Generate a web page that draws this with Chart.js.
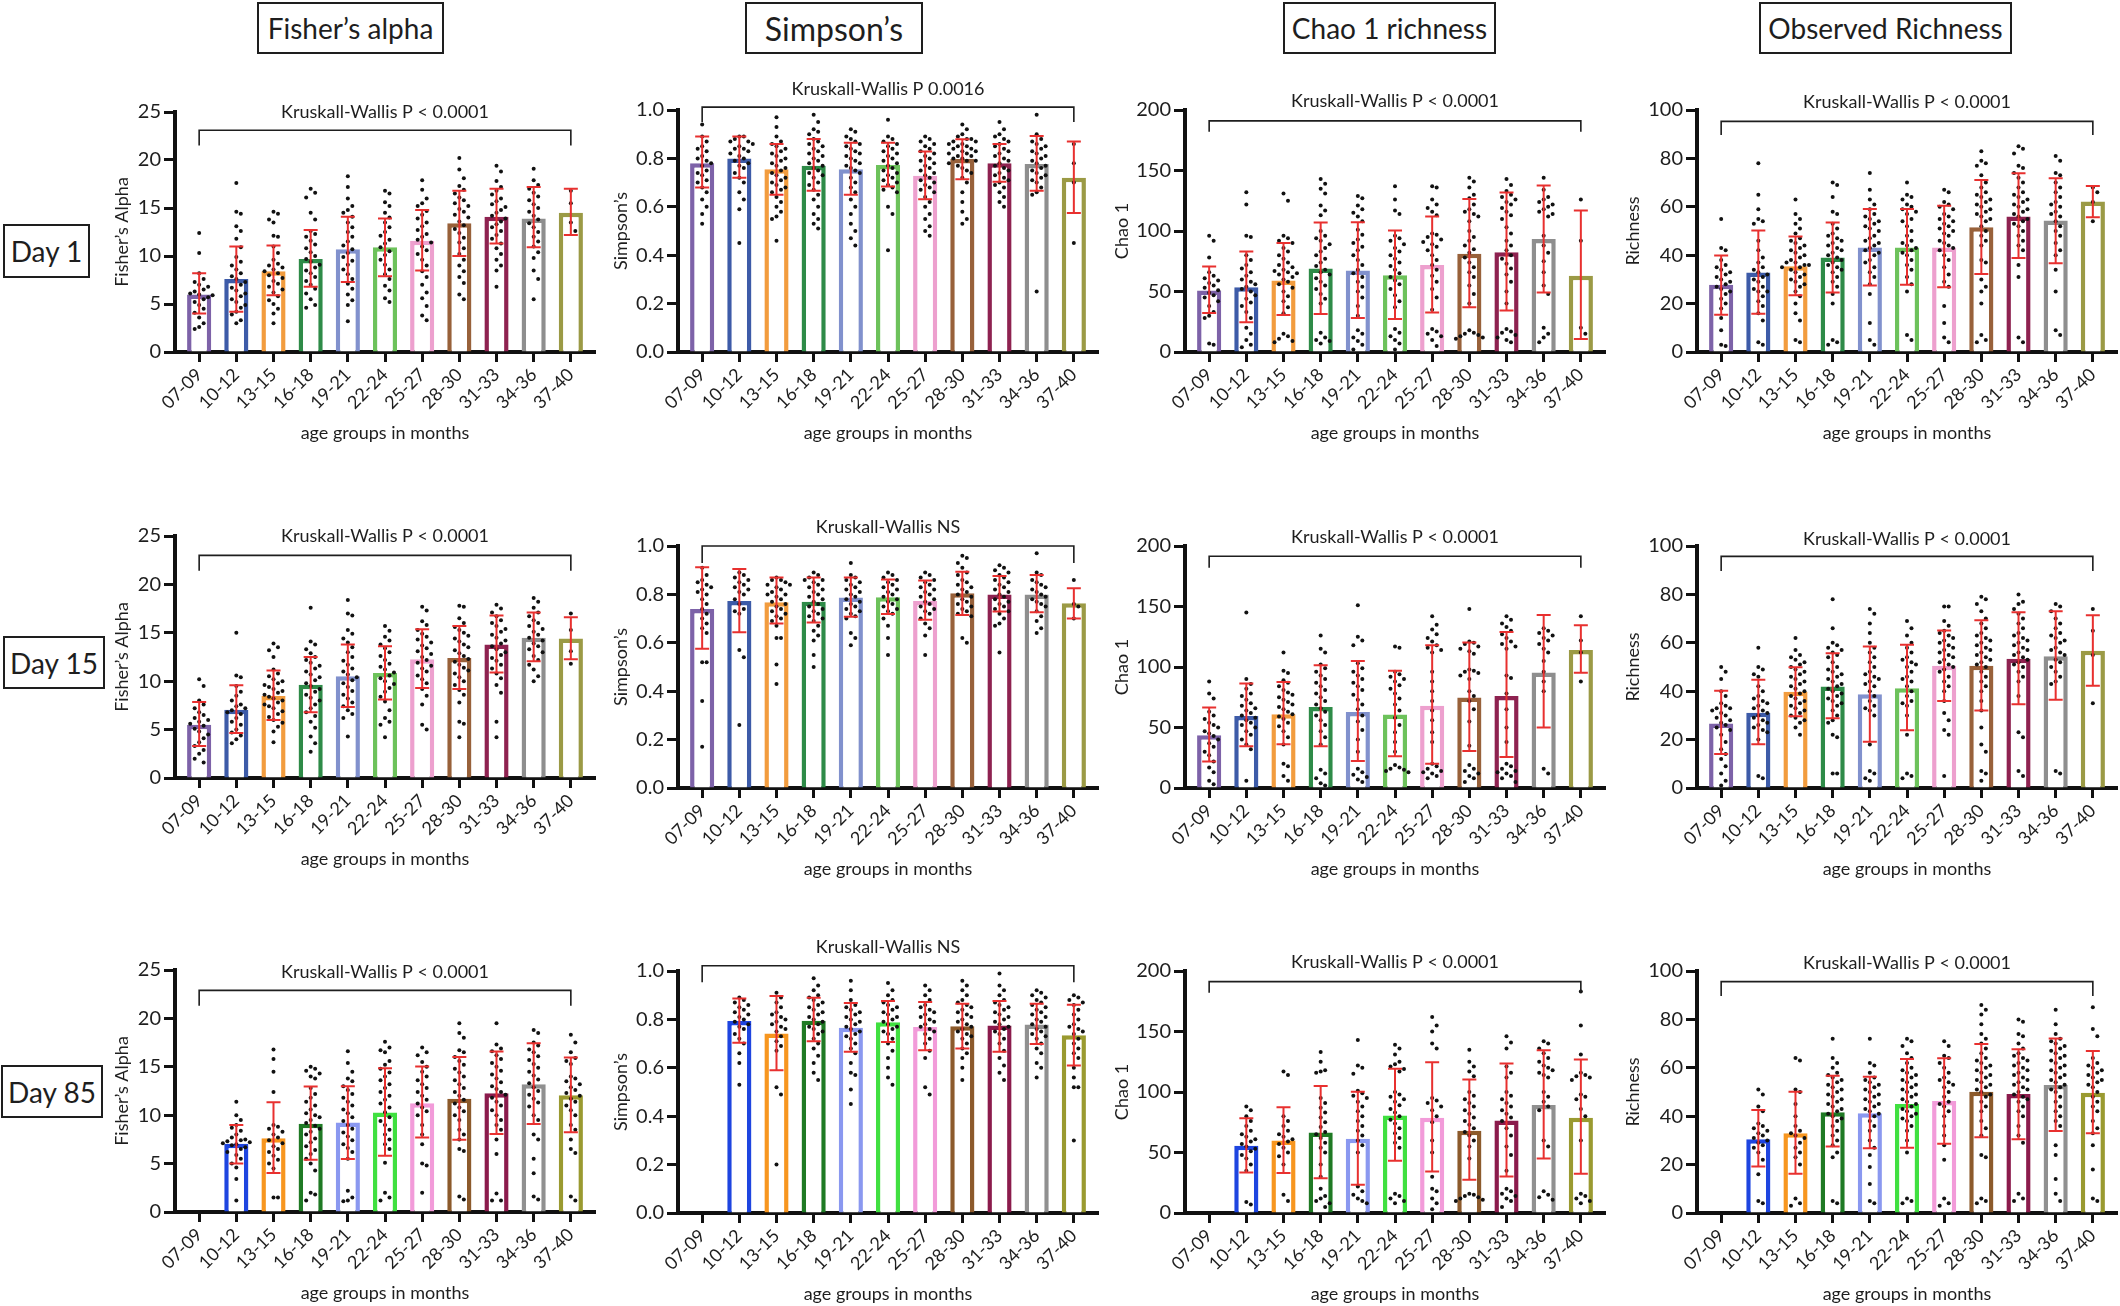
<!DOCTYPE html>
<html><head><meta charset="utf-8">
<script src="https://cdn.jsdelivr.net/npm/chart.js@4.4.1/dist/chart.umd.min.js"></script>
<style>
html,body{margin:0;padding:0;background:#fff;}
#wrap{position:relative;width:2120px;height:1306px;overflow:hidden;font-family:Lato,sans-serif;color:#1e1e1e;}
.box{position:absolute;box-sizing:border-box;border:2.5px solid #1e1e1e;display:flex;align-items:center;justify-content:center;font-size:28px;white-space:nowrap;}
canvas{position:absolute;}
</style></head><body><div id="wrap">
<div class="box" style="left:257px;top:2px;width:187px;height:52px">Fisher’s alpha</div>
<div class="box" style="left:745px;top:2px;width:178px;height:52px;font-size:32px">Simpson’s</div>
<div class="box" style="left:1283px;top:2px;width:213px;height:52px">Chao 1 richness</div>
<div class="box" style="left:1759px;top:2px;width:253px;height:52px">Observed Richness</div>
<div class="box" style="left:3px;top:224px;width:87px;height:54px">Day 1</div>
<div class="box" style="left:3px;top:636px;width:102px;height:53px">Day 15</div>
<div class="box" style="left:1px;top:1065px;width:102px;height:53px">Day 85</div>
</div>
<script>
// ---------------- DATA ----------------
const categories = ['07-09','10-12','13-15','16-18','19-21','22-24','25-27','28-30','31-33','34-36','37-40'];
const colorsEarly = ['#7d62a8','#3d5ba8','#f29c3e','#2e8b48','#8191cd','#6dc25b','#eda0ce','#98613a','#8e2250','#8e8e8e','#9b9a45'];
const colorsLate  = ['#7d62a8','#1e45e0','#f7961f','#1f7a24','#8a98f0','#40e040','#f29bd9','#8c5a2b','#8b1b4c','#909090','#9a9a30'];

// Fisher's alpha, Day 1
const fisherD1Mean = [6.0,7.6,8.4,9.7,10.7,10.9,11.6,13.4,14.1,13.9,14.5];
const fisherD1Hi   = [8.2,11.0,11.1,12.7,14.1,13.9,14.8,16.8,17.0,17.2,17.0];
const fisherD1Lo   = [4.0,4.2,5.9,6.8,7.3,7.9,8.5,10.0,11.3,10.9,12.2];
const fisherD1Dots = [
[12.4,10.3,8.2,7.6,7.3,7.0,6.8,6.5,6.3,6.1,6.0,5.9,5.7,5.5,5.2,4.9,4.5,4.1,3.6,3.0,2.6,2.4],
[17.6,14.6,14.4,13.1,12.6,11.8,10.9,9.9,9.4,9.0,8.6,8.2,7.9,7.6,7.3,7.0,6.7,6.4,6.1,5.8,5.5,5.2,4.9,4.6,4.2,3.9,3.3,3.0],
[14.6,14.4,13.8,13.5,12.1,12.0,11.0,10.3,9.6,9.2,9.0,8.8,8.6,8.4,8.2,8.0,7.7,7.4,7.1,6.8,6.5,6.2,5.8,5.4,5.0,4.5,4.0,3.0],
[17.0,16.6,16.1,14.5,13.8,12.6,12.3,12.0,11.6,11.2,10.8,10.4,10.0,9.7,9.4,9.1,8.8,8.5,8.2,7.8,7.4,7.0,6.6,6.1,5.5,4.9,4.6],
[18.3,17.2,16.0,15.2,14.8,14.5,14.1,13.5,13.0,12.5,12.0,11.5,11.1,10.7,10.3,9.9,9.5,9.1,8.6,8.1,7.6,7.1,6.6,6.0,5.4,4.9,3.2],
[16.8,16.5,15.6,15.2,14.5,14.0,13.5,13.0,12.5,12.1,11.7,11.3,10.9,10.5,10.1,9.6,9.1,8.6,8.1,7.6,6.9,6.4,5.6,5.2],
[17.9,16.9,16.0,15.5,15.2,14.7,14.3,13.9,13.5,13.1,12.7,12.3,12.0,11.7,11.4,11.0,10.6,10.2,9.6,9.0,8.4,7.8,7.0,6.2,5.6,4.8,3.8,3.3],
[20.2,19.0,18.1,17.3,16.9,16.5,16.1,15.8,15.5,15.2,14.9,14.6,14.3,14.0,13.6,13.2,12.8,12.4,11.9,11.4,10.8,10.2,9.6,9.0,8.4,7.8,7.2,6.0,5.5],
[19.4,18.8,17.8,17.2,16.8,16.4,16.0,15.7,15.4,15.1,14.8,14.5,14.2,13.9,13.6,13.3,13.0,12.6,12.2,11.8,11.3,10.8,10.2,9.6,9.0,8.5,6.8],
[19.1,17.9,17.4,17.0,16.6,16.2,15.8,15.4,15.0,14.6,14.2,13.8,13.4,13.0,12.5,12.0,11.5,11.0,10.4,9.8,8.5,7.6,5.5],
[16.8,15.5,13.5,12.6]];

// Simpson's, Day 1
const simpsonD1Mean = [0.78,0.80,0.755,0.77,0.755,0.773,0.728,0.798,0.78,0.777,0.72];
const simpsonD1Hi   = [0.89,0.89,0.86,0.88,0.865,0.865,0.828,0.879,0.86,0.893,0.87];
const simpsonD1Lo   = [0.68,0.72,0.65,0.666,0.65,0.684,0.631,0.714,0.704,0.666,0.574];
const simpsonD1Dots = [
[0.94,0.89,0.87,0.85,0.84,0.83,0.81,0.80,0.79,0.78,0.77,0.75,0.74,0.73,0.71,0.70,0.68,0.66,0.63,0.60,0.57,0.53],
[0.89,0.89,0.88,0.87,0.87,0.86,0.85,0.84,0.84,0.83,0.82,0.81,0.80,0.79,0.78,0.77,0.76,0.74,0.72,0.70,0.66,0.63,0.59,0.45],
[0.97,0.93,0.89,0.87,0.86,0.85,0.84,0.83,0.82,0.81,0.80,0.79,0.78,0.77,0.76,0.75,0.74,0.73,0.72,0.71,0.70,0.69,0.68,0.67,0.66,0.64,0.62,0.60,0.58,0.56,0.55,0.46],
[0.98,0.95,0.92,0.91,0.90,0.88,0.87,0.86,0.85,0.84,0.83,0.82,0.81,0.80,0.79,0.78,0.77,0.76,0.75,0.74,0.73,0.72,0.70,0.69,0.67,0.65,0.63,0.60,0.57,0.55,0.53,0.51],
[0.92,0.91,0.89,0.88,0.87,0.86,0.85,0.84,0.83,0.82,0.81,0.80,0.79,0.78,0.77,0.76,0.75,0.74,0.72,0.70,0.68,0.66,0.63,0.60,0.57,0.53,0.50,0.47,0.44],
[0.96,0.89,0.88,0.87,0.86,0.85,0.84,0.83,0.82,0.81,0.80,0.79,0.78,0.77,0.76,0.75,0.74,0.73,0.72,0.71,0.70,0.69,0.68,0.67,0.66,0.60,0.57,0.42],
[0.89,0.88,0.87,0.86,0.85,0.84,0.83,0.82,0.81,0.80,0.79,0.78,0.77,0.76,0.75,0.74,0.73,0.72,0.71,0.70,0.69,0.68,0.67,0.66,0.64,0.62,0.60,0.57,0.55,0.52,0.50,0.48],
[0.94,0.92,0.90,0.89,0.88,0.88,0.87,0.87,0.86,0.86,0.85,0.85,0.84,0.84,0.83,0.83,0.82,0.82,0.81,0.81,0.80,0.80,0.79,0.79,0.78,0.77,0.76,0.75,0.74,0.72,0.70,0.66,0.62,0.58,0.55,0.53],
[0.95,0.92,0.90,0.89,0.88,0.87,0.86,0.85,0.84,0.83,0.82,0.81,0.80,0.79,0.78,0.77,0.76,0.75,0.74,0.73,0.72,0.71,0.70,0.69,0.68,0.66,0.64,0.62,0.60],
[0.98,0.90,0.88,0.87,0.86,0.85,0.84,0.83,0.82,0.81,0.80,0.79,0.78,0.77,0.76,0.75,0.74,0.73,0.72,0.71,0.70,0.68,0.66,0.65,0.25],
[0.86,0.78,0.70,0.45]];

// Chao 1, Day 1
const chaoD1Mean = [50.9,53.6,59.1,69.0,67.4,63.5,72.0,81.2,82.5,93.3,63.0];
const chaoD1Hi   = [70.7,83.1,90.0,107.0,107.3,100.4,112.0,126.5,131.8,137.6,117.0];
const chaoD1Lo   = [32.2,24.5,30.5,31.4,28.0,27.2,32.7,37.0,34.4,49.2,10.7];
const chaoD1Dots = [
[96,92,78,66,63,61,59,57,55,53,51,49,47,45,42,38,33,30,28,7,6],
[132,122,96,95,80,76,72,69,66,63,60,58,56,54,52,50,47,44,41,38,33,28,20,15,10,6,4],
[131,125,96,94,92,90,86,83,80,77,74,72,70,68,67,66,65,64,62,60,58,56,53,50,46,42,37,32,15,13,11,9,8],
[143,139,135,131,121,117,113,100,96,94,92,89,86,83,80,77,74,71,68,66,64,61,58,55,52,48,44,40,16,12,10,9,7],
[129,127,121,118,115,112,108,101,97,93,90,87,84,80,76,72,68,65,62,58,54,50,45,38,30,18,15,12,9,6,2],
[137,126,117,114,96,94,92,89,86,83,80,77,74,71,68,65,62,59,56,52,47,42,37,19,16,13,10,7,2],
[137,136,126,122,119,116,113,98,97,95,93,91,89,87,84,80,76,72,68,63,58,52,45,35,19,17,15,13,10,5],
[144,141,136,130,127,122,118,116,114,112,108,100,95,92,88,85,82,78,74,70,66,62,55,48,40,18,16,15,14,13,12,11],
[143,138,133,130,128,126,124,122,119,116,113,110,103,98,92,88,84,80,77,73,69,64,58,50,40,19,17,16,14,12,10,8],
[144,134,128,126,124,122,120,118,116,114,112,96,88,82,75,66,55,48,20,15,12,8],
[126,92,20,15]];

// Observed richness, Day 1
const obsD1Mean = [27.8,32.9,35.4,39.0,43.2,43.2,43.2,51.6,56.0,54.3,62.2];
const obsD1Hi   = [39.9,50.2,47.7,53.5,59.1,59.1,60.4,71.1,73.9,71.8,68.6];
const obsD1Lo   = [15.4,15.8,23.5,24.6,27.5,27.8,26.8,32.2,38.8,36.7,55.7];
const obsD1Dots = [
[55,43,42,38,36,35,34,33,32,31,30,29,28,27,26,25,24,22,20,18,14,9,3,2.5],
[78,65,59,55,54,53,46,42,39,37,35,34,33,32,31,30,29,27,26,25,25,23,21,19,16,13,4,3],
[63,57,55,53,51,49,47,46,45,44,43,42,41,40,39,38,37,37,36,36,35,35,34,33,32,31,30,29,28,27,25,23,20,16,13,5,4],
[70,69,64,58,57,53,51,49,48,47,46,45,44,43,42,41,40,39,38,37,36,35,34,33,31,29,27,24,20,5,4,3],
[74,67,63,61,59,57,56,55,54,53,52,51,50,48,47,46,45,44,43,42,41,40,38,37,35,33,31,28,24,12,5,3],
[70,65,64,63,61,60,59,58,57,55,54,52,50,48,46,45,44,43,42,41,40,38,36,34,31,28,25,7,5],
[67,66,62,61,60,59,57,56,55,54,53,52,51,50,49,48,46,45,44,43,42,40,38,35,32,29,27,19,12,6,4],
[83,79,78,77,73,70,68,66,65,64,63,62,61,60,59,58,57,56,55,54,52,50,48,46,44,38,37,30,27,25,20,7,5,4],
[85,84,82,77,76,74,72,70,68,66,65,64,63,62,61,60,59,58,57,56,55,54,53,52,50,48,46,44,42,36,31,6,4],
[81,79,74,73,70,68,66,64,62,61,60,58,57,56,54,52,50,48,45,42,40,34,25,9,7],
[68,66,62,54]];

// Fisher's alpha, Day 15
const fisherD15Mean = [5.5,7.06,8.47,9.64,10.5,10.85,12.26,12.4,13.8,14.5,14.4];
const fisherD15Hi   = [7.85,9.57,11.1,12.5,13.8,13.6,15.36,15.7,16.8,17.1,16.6];
const fisherD15Lo   = [3.3,4.65,6.0,6.8,7.33,8.1,9.3,9.2,10.9,12.05,12.26];
const fisherD15Dots = [
[10.2,9.5,8.0,7.6,7.2,6.8,6.5,6.2,6.0,5.8,5.6,5.4,5.1,4.8,4.5,4.1,3.7,3.3,2.9,2.5,2.0,1.6],
[15.0,10.6,10.4,9.5,8.9,8.5,8.0,7.6,7.4,7.2,7.0,6.8,6.6,6.2,5.8,5.5,5.0,4.7,4.4,4.0,3.6],
[13.9,13.5,13.2,12.5,11.2,10.8,10.5,10.2,10.0,9.8,9.6,9.4,9.2,9.0,8.8,8.6,8.4,8.2,8.0,7.8,7.6,7.4,7.2,6.9,6.6,6.3,6.0,5.7,5.3,4.8,3.7],
[17.6,14.1,13.8,13.3,12.9,12.5,12.2,11.9,11.6,11.3,11.0,10.7,10.4,10.1,9.8,9.5,9.2,8.9,8.6,8.3,8.0,7.6,7.2,6.8,6.4,5.8,5.2,4.3,3.6,2.7],
[18.4,17.0,16.8,15.3,14.9,14.4,14.0,13.5,13.0,12.5,12.1,11.7,11.3,11.0,10.7,10.4,10.1,9.8,9.4,9.0,8.6,8.2,7.8,7.4,7.0,6.6,6.2,4.3],
[15.7,15.2,14.6,14.2,13.8,13.4,13.0,12.6,12.2,11.8,11.5,11.2,10.9,10.6,10.3,10.0,9.7,9.3,8.9,8.4,7.9,7.0,6.2,5.8,5.5,4.2],
[17.7,17.3,16.2,15.8,15.3,14.9,14.6,14.3,14.0,13.7,13.4,13.1,12.8,12.5,12.2,11.9,11.6,11.3,11.0,10.6,10.2,9.8,9.2,8.5,7.6,5.5,5.0],
[17.8,17.7,16.5,16.0,15.6,15.3,15.0,14.7,14.4,14.1,13.8,13.5,13.2,12.9,12.6,12.3,12.0,11.7,11.4,11.1,10.8,10.4,10.0,9.6,9.1,8.6,7.8,5.8,5.6,4.2],
[17.9,17.5,17.1,16.7,16.3,16.0,15.7,15.4,15.1,14.8,14.5,14.2,13.9,13.6,13.3,13.0,12.7,12.4,12.1,11.7,11.3,10.8,10.3,9.6,8.8,5.8,4.2],
[18.6,18.2,17.6,17.1,16.7,16.3,16.0,15.7,15.4,15.1,14.8,14.5,14.2,13.9,13.6,13.3,13.0,12.6,12.2,11.7,11.2,10.5,10.0],
[17.0,15.3,13.1,11.8]];

// Simpson's, Day 15
const simpsonD15Mean = [0.74,0.773,0.768,0.77,0.787,0.788,0.773,0.805,0.80,0.80,0.763];
const simpsonD15Hi   = [0.912,0.905,0.87,0.87,0.87,0.862,0.857,0.894,0.876,0.88,0.825];
const simpsonD15Lo   = [0.575,0.644,0.68,0.684,0.708,0.719,0.695,0.715,0.729,0.726,0.70];
const simpsonD15Dots = [
[0.91,0.88,0.86,0.85,0.84,0.83,0.82,0.81,0.80,0.78,0.76,0.74,0.72,0.70,0.68,0.66,0.64,0.52,0.52,0.36,0.17],
[0.89,0.88,0.87,0.86,0.85,0.84,0.83,0.82,0.81,0.80,0.78,0.76,0.74,0.73,0.72,0.57,0.54,0.26],
[0.87,0.86,0.86,0.85,0.84,0.84,0.83,0.82,0.81,0.80,0.80,0.79,0.78,0.77,0.76,0.75,0.74,0.73,0.72,0.71,0.70,0.69,0.67,0.62,0.62,0.51,0.43],
[0.89,0.88,0.87,0.86,0.86,0.85,0.84,0.83,0.82,0.81,0.80,0.79,0.78,0.77,0.76,0.75,0.74,0.73,0.72,0.71,0.70,0.69,0.67,0.65,0.63,0.61,0.55,0.50],
[0.93,0.88,0.87,0.86,0.85,0.84,0.83,0.82,0.81,0.80,0.79,0.78,0.77,0.76,0.75,0.74,0.73,0.72,0.71,0.70,0.64,0.62,0.59],
[0.89,0.88,0.87,0.86,0.85,0.84,0.83,0.82,0.81,0.80,0.79,0.78,0.77,0.76,0.75,0.74,0.73,0.72,0.70,0.67,0.62,0.55],
[0.89,0.88,0.87,0.86,0.85,0.84,0.83,0.82,0.81,0.80,0.79,0.78,0.77,0.76,0.75,0.74,0.73,0.72,0.70,0.68,0.66,0.63,0.55],
[0.96,0.95,0.93,0.91,0.89,0.88,0.86,0.85,0.84,0.83,0.82,0.81,0.80,0.79,0.78,0.77,0.76,0.75,0.74,0.73,0.72,0.71,0.62,0.60],
[0.92,0.91,0.90,0.89,0.88,0.87,0.86,0.85,0.84,0.83,0.82,0.81,0.80,0.79,0.78,0.77,0.76,0.75,0.74,0.73,0.72,0.70,0.68,0.67,0.56],
[0.97,0.89,0.88,0.86,0.85,0.84,0.83,0.82,0.81,0.80,0.79,0.78,0.77,0.76,0.75,0.73,0.71,0.69,0.66,0.64],
[0.86,0.76,0.75,0.70]];

// Chao 1, Day 15
const chaoD15Mean = [43.6,59.6,61.0,67.0,62.9,60.7,67.9,74.8,76.1,95.4,114.0];
const chaoD15Hi   = [66.5,86.3,87.7,101.5,105.0,96.8,118.0,120.3,129.0,142.9,134.6];
const chaoD15Lo   = [22.0,34.5,36.1,34.5,22.3,26.2,20.1,30.6,25.7,49.9,95.2];
const chaoD15Dots = [
[88,78,74,63,60,57,54,52,50,47,45,43,40,37,34,30,27,22,17,13,6,3],
[145,90,86,82,78,76,73,70,68,66,64,62,60,58,56,54,52,50,47,44,40,36,32,6],
[112,97,95,89,87,84,81,79,77,75,73,71,69,67,65,63,61,59,57,54,51,47,42,36,20,18,10,6],
[126,115,112,102,99,96,93,90,87,84,81,78,75,72,69,66,63,60,56,52,47,42,36,15,12,8,4,2],
[151,125,122,118,103,99,96,93,90,87,84,81,77,73,69,65,60,55,48,40,30,16,13,11,9,7,5],
[117,116,96,94,92,90,88,85,82,78,74,69,64,58,52,46,38,30,19,17,16,15,14,13],
[142,135,131,127,124,121,118,116,114,112,96,88,80,72,64,56,46,38,20,18,16,14,13,12,10,8],
[148,121,120,119,117,115,113,111,98,97,96,95,93,90,80,76,72,65,55,35,19,16,14,12,10,8,5],
[142,139,136,133,130,127,124,121,119,117,115,93,91,78,65,50,38,20,18,16,14,13,12,10,8,5],
[132,130,128,126,124,122,119,115,112,105,96,88,80,16,12],
[142,122,112,88]];

// Observed richness, Day 15
const obsD15Mean = [26.7,31.1,39.8,41.9,38.7,41.2,50.5,50.5,53.4,54.4,56.7];
const obsD15Hi   = [40.2,44.7,49.9,55.7,58.5,59.2,65.1,69.3,72.6,73.0,71.4];
const obsD15Lo   = [14.0,18.1,29.7,28.8,19.1,23.9,36.0,32.0,34.6,36.5,42.3];
const obsD15Dots = [
[50,48,45,40,38,35,34,33,33,32,31,30,29,28,27,26,25,24,22,19,16,14,12,9,6,3,1],
[58,50,49,47,46,42,40,38,37,36,35,34,33,32,31,30,29,28,27,26,25,24,23,20,5,4],
[62,57,55,54,53,52,51,50,49,48,47,46,45,44,43,42,41,40,39,38,37,36,35,34,33,32,31,30,29,28,27,25,22],
[78,66,60,59,58,57,56,55,54,52,50,49,48,47,46,45,44,43,42,41,40,39,38,37,36,35,34,32,30,28,27,22,21,6,6],
[74,72,68,64,60,58,56,54,52,50,48,47,46,45,44,43,42,40,38,36,34,33,32,30,18,7,6,4,3],
[69,66,63,60,58,56,54,53,52,51,50,48,46,45,44,42,40,38,36,35,34,30,22,6,5,4],
[75,75,69,67,65,64,63,62,61,60,59,58,57,56,55,54,53,52,51,50,49,48,46,44,42,40,36,31,28,24,22,5],
[79,78,76,73,70,68,66,64,63,62,61,60,59,58,57,56,55,54,53,52,51,50,48,46,44,42,40,36,32,25,18,15,7,6,3],
[80,77,76,74,72,70,68,66,64,63,62,61,60,59,58,57,56,55,54,53,52,51,50,48,46,44,38,23,21,7,5],
[76,75,73,70,68,66,64,63,62,61,60,58,57,56,55,53,52,50,48,46,44,43,7,6],
[74,65,55,35]];

// Fisher's alpha, Day 85 (no 07-09 group)
const fisherD85Mean = [null,7.05,7.63,9.11,9.25,10.28,11.24,11.69,12.28,13.2,12.07];
const fisherD85Hi   = [null,9.0,11.35,12.96,13.0,14.86,15.03,16.0,16.57,17.43,15.96];
const fisherD85Lo   = [null,5.0,4.02,5.4,5.47,5.8,7.7,7.46,8.05,9.08,8.25];
const fisherD85Dots = [
[],
[11.4,10.0,9.5,9.0,8.7,8.4,8.0,7.7,7.5,7.4,7.3,7.2,7.1,7.0,6.9,6.7,6.5,6.2,5.9,5.5,5.0,4.6,3.4,1.2],
[16.8,15.8,14.5,12.4,9.0,8.8,8.6,8.3,8.0,7.7,7.4,7.1,6.8,6.5,6.2,5.8,5.4,5.0,4.5,1.5,1.5],
[15.0,14.8,14.6,14.3,14.0,13.8,12.8,12.2,11.8,11.4,11.0,10.6,10.2,10.0,9.8,9.5,9.2,8.9,8.6,8.3,8.0,7.6,7.2,6.8,6.4,6.0,5.5,5.0,4.3,2.0,1.8,1.2],
[16.6,15.4,14.5,13.8,13.5,13.0,12.6,12.2,11.8,11.4,11.0,10.6,10.2,9.8,9.4,9.0,8.6,8.2,7.8,7.4,7.0,6.6,6.2,5.5,2.2,1.5,1.2,1.1],
[17.6,17.0,16.7,16.5,15.6,15.2,14.8,14.4,14.0,13.6,13.2,12.8,12.4,12.0,11.6,11.2,10.8,10.3,9.8,9.4,9.0,8.5,8.0,7.5,7.0,6.5,5.1,2.0,1.5,1.2],
[17.0,16.5,16.2,15.5,15.0,14.5,14.0,13.6,13.2,12.8,12.4,12.0,11.6,11.2,10.8,10.4,10.0,9.0,8.0,7.0,5.0,4.8,2.0],
[19.5,18.5,18.0,16.7,16.5,16.0,15.6,15.2,14.8,14.4,14.0,13.6,13.2,12.8,12.4,12.0,11.6,11.2,10.8,10.4,10.0,9.5,8.5,8.0,7.5,6.5,6.3,1.6,1.3],
[19.5,17.3,16.9,16.6,16.2,15.8,15.4,15.0,14.6,14.2,13.8,13.4,13.0,12.7,12.4,12.1,11.8,11.4,11.0,10.5,10.0,9.5,9.0,8.5,7.5,6.0,1.9,1.2,1.2],
[18.8,18.5,17.5,17.2,16.8,16.5,16.1,15.7,15.3,14.9,14.5,14.1,13.7,13.3,12.9,12.5,12.1,11.7,11.3,10.9,10.0,9.5,8.0,7.5,5.5,4.0,1.6,1.3],
[18.3,17.5,16.5,15.9,15.6,15.3,14.0,13.8,13.5,13.2,12.9,12.6,12.3,12.0,11.7,11.4,11.0,10.5,10.0,9.0,8.5,7.5,6.5,6.1,1.6,1.2]];

// Simpson's, Day 85
const simpsonD85Mean = [null,0.793,0.742,0.794,0.765,0.788,0.769,0.772,0.775,0.779,0.734];
const simpsonD85Hi   = [null,0.886,0.897,0.889,0.868,0.876,0.872,0.865,0.876,0.865,0.861];
const simpsonD85Lo   = [null,0.703,0.59,0.71,0.666,0.707,0.673,0.68,0.666,0.698,0.609];
const simpsonD85Dots = [
[],
[0.89,0.88,0.87,0.86,0.85,0.84,0.83,0.82,0.81,0.80,0.79,0.78,0.77,0.76,0.74,0.72,0.70,0.66,0.62,0.53],
[0.91,0.89,0.87,0.85,0.83,0.82,0.81,0.80,0.79,0.78,0.77,0.76,0.75,0.73,0.71,0.69,0.67,0.52,0.49,0.20],
[0.97,0.94,0.92,0.90,0.89,0.88,0.87,0.86,0.85,0.84,0.83,0.82,0.81,0.80,0.79,0.78,0.77,0.76,0.75,0.74,0.72,0.70,0.68,0.65,0.62,0.58,0.55],
[0.96,0.92,0.88,0.86,0.85,0.84,0.83,0.82,0.81,0.80,0.79,0.78,0.77,0.76,0.75,0.74,0.73,0.72,0.70,0.68,0.66,0.62,0.58,0.57,0.51,0.45],
[0.95,0.92,0.90,0.88,0.87,0.86,0.85,0.84,0.83,0.82,0.81,0.80,0.79,0.78,0.77,0.76,0.75,0.74,0.72,0.70,0.67,0.64,0.60,0.56,0.53],
[0.94,0.92,0.90,0.88,0.86,0.85,0.84,0.83,0.82,0.81,0.80,0.79,0.78,0.77,0.76,0.75,0.74,0.72,0.70,0.67,0.64,0.52,0.49],
[0.96,0.94,0.92,0.90,0.88,0.87,0.86,0.85,0.84,0.83,0.82,0.81,0.80,0.79,0.78,0.77,0.76,0.75,0.74,0.73,0.72,0.70,0.68,0.66,0.64,0.60,0.55],
[0.99,0.94,0.92,0.90,0.88,0.87,0.86,0.85,0.84,0.83,0.82,0.81,0.80,0.79,0.78,0.77,0.76,0.75,0.74,0.72,0.70,0.67,0.64,0.61,0.58,0.55],
[0.92,0.91,0.90,0.89,0.88,0.87,0.86,0.85,0.84,0.83,0.82,0.81,0.80,0.79,0.78,0.77,0.76,0.75,0.74,0.73,0.72,0.70,0.68,0.66,0.62,0.60,0.56],
[0.90,0.89,0.88,0.87,0.86,0.84,0.82,0.80,0.78,0.77,0.76,0.75,0.74,0.72,0.70,0.68,0.66,0.64,0.60,0.56,0.52,0.52,0.30]];

// Chao 1, Day 85
const chaoD85Mean = [null,55.5,59.9,66.5,61.3,80.5,78.8,67.9,76.4,89.3,78.8];
const chaoD85Hi   = [null,78.3,87.4,105.0,100.3,119.2,124.5,110.4,123.6,134.6,126.9];
const chaoD85Lo   = [null,33.5,33.0,28.8,23.4,43.1,34.3,27.5,30.2,45.0,32.4];
const chaoD85Dots = [
[],
[88,85,80,76,72,68,65,63,61,59,57,55,53,51,48,45,40,35,9,7],
[117,114,80,76,72,68,65,63,61,59,57,54,50,47,40,15,10],
[133,125,118,117,116,95,91,87,83,79,75,71,67,65,62,58,54,50,40,30,20,14,12,10,8,5],
[143,122,120,115,101,99,97,95,92,88,84,80,76,72,68,64,60,56,50,22,18,15,12,10,8],
[139,136,131,125,123,121,119,117,100,98,96,94,92,89,86,83,80,77,74,70,66,62,58,54,16,14,12,10,8],
[162,155,150,140,136,95,93,91,88,85,80,75,60,50,30,20,18,12,8,3],
[135,125,121,117,113,100,97,94,91,88,85,82,79,76,73,70,67,64,60,55,45,16,15,14,13,12,11,10],
[146,141,136,121,116,112,100,97,94,91,88,85,82,79,76,70,64,55,48,35,20,18,16,14,12,10,5],
[142,140,136,132,128,125,122,120,118,116,114,112,100,96,92,88,85,60,55,18,15,13,11],
[183,155,131,116,114,113,112,110,98,96,94,86,80,60,16,14,12,10,8]];

// Observed richness, Day 85
const obsD85Mean = [null,30.5,33.0,41.6,41.2,45.0,46.3,50.1,49.2,52.9,49.7];
const obsD85Hi   = [null,42.6,50.1,56.7,56.3,63.6,63.9,69.8,67.7,72.1,66.9];
const obsD85Lo   = [null,19.2,16.2,27.5,26.8,27.0,28.6,31.3,30.5,33.9,33.0];
const obsD85Dots = [
[],
[51,49,44,42,37,36,35,34,33,32,31,30,29,28,27,25,22,16,5,4],
[64,63,51,50,45,40,36,34,33,32,31,29,27,25,23,20,6,4,3],
[72,64,62,60,58,57,56,55,54,53,52,51,50,49,48,47,46,45,44,43,42,41,40,39,38,36,34,32,30,28,25,23,5,4],
[72,62,61,58,56,55,54,53,52,51,50,49,48,47,46,45,44,43,42,41,40,38,36,34,30,27,24,19,12,5,4],
[72,71,69,66,64,62,60,59,58,57,56,55,54,53,52,51,50,49,48,47,46,45,44,43,42,41,40,39,38,36,34,30,25,6,5,4],
[71,69,65,64,62,60,58,56,55,54,53,52,50,48,46,45,44,42,40,36,32,28,22,6,4,3],
[86,84,82,78,74,72,70,68,66,64,63,62,61,60,59,58,57,56,55,54,53,52,51,50,49,48,46,44,42,38,35,32,24,23,6,5,4],
[80,79,74,73,70,68,66,65,64,63,62,61,60,59,58,57,56,55,54,53,52,51,50,49,48,47,46,44,42,40,36,32,29,8,6,5],
[84,78,74,72,71,70,69,68,67,66,65,64,63,62,61,60,59,58,57,56,55,54,53,52,51,50,48,46,44,42,40,38,36,28,24,14,8,5],
[85,76,73,64,62,61,60,59,58,57,56,55,54,53,52,50,48,46,44,42,38,35,33,28,18,6,5]];

// Kruskal-Wallis annotations: text, and [text level, bracket level, bracket end level] in axis units
const kwTexts = [
  ['Kruskall-Wallis P < 0.0001','Kruskall-Wallis P 0.0016','Kruskall-Wallis P < 0.0001','Kruskall-Wallis P < 0.0001'],
  ['Kruskall-Wallis P < 0.0001','Kruskall-Wallis NS','Kruskall-Wallis P < 0.0001','Kruskall-Wallis P < 0.0001'],
  ['Kruskall-Wallis P < 0.0001','Kruskall-Wallis NS','Kruskall-Wallis P < 0.0001','Kruskall-Wallis P < 0.0001']];
const kwLevels = [
  [[25,23.1,21.5],[1.087,1.012,0.95],[207,191,182],[103.3,95.3,89.7]],
  [[25,23.0,21.4],[1.078,1.0,0.93],[207,191.5,182],[103,95.7,89.7]],
  [[24.8,22.9,21.3],[1.098,1.022,0.953],[207,191.2,182],[103.2,95.6,89.7]]];

// Axis definitions per metric (column)
const yTitles = ['Fisher’s Alpha','Simpson’s','Chao 1','Richness'];
const yMaxes  = [25, 1.0, 200, 100];
const ySteps  = [5, 0.2, 50, 20];
const yDecimals = [0, 1, 0, 0];
const xTitle = 'age groups in months';

// ---------------- LAYOUT (pixels) ----------------
const colAxisX = [175, 678, 1185, 1697];
const colYW = [64, 68, 74, 75];
const plotW = 421;
const chartTops = [[112,110,110,110],[536,546,546,546],[970,971,971,971]];
const chartBots = [[352,352,352,352],[778,788,788,788],[1212,1213,1213,1213]];
const PAD_TOP = 45, XH = 92;
const X_MIN = -0.65, X_MAX = 10.65;

const table = [
  [[fisherD1Mean,fisherD1Hi,fisherD1Lo,fisherD1Dots],[simpsonD1Mean,simpsonD1Hi,simpsonD1Lo,simpsonD1Dots],[chaoD1Mean,chaoD1Hi,chaoD1Lo,chaoD1Dots],[obsD1Mean,obsD1Hi,obsD1Lo,obsD1Dots]],
  [[fisherD15Mean,fisherD15Hi,fisherD15Lo,fisherD15Dots],[simpsonD15Mean,simpsonD15Hi,simpsonD15Lo,simpsonD15Dots],[chaoD15Mean,chaoD15Hi,chaoD15Lo,chaoD15Dots],[obsD15Mean,obsD15Hi,obsD15Lo,obsD15Dots]],
  [[fisherD85Mean,fisherD85Hi,fisherD85Lo,fisherD85Dots],[simpsonD85Mean,simpsonD85Hi,simpsonD85Lo,simpsonD85Dots],[chaoD85Mean,chaoD85Hi,chaoD85Lo,chaoD85Dots],[obsD85Mean,obsD85Hi,obsD85Lo,obsD85Dots]]];
const rowColors = [colorsEarly, colorsEarly, colorsLate];

// deterministic beeswarm placement (horizontal offsets in px)
function swarm(vals, pxPerUnit) {
  const d = 4.5, gap = 9, slots = [0,1,-1,2,-2,3,-3];
  const placed = [], out = [];
  const sorted = vals.slice().sort((a,b)=>b-a);
  for (const v of sorted) {
    const yp = v*pxPerUnit;
    let best = 0, bestScore = -1;
    for (const s of slots) {
      let minD = Infinity;
      for (const p of placed) if (p.s === s) minD = Math.min(minD, Math.abs(p.yp - yp));
      if (minD >= gap) { best = s; bestScore = Infinity; break; }
      if (minD > bestScore) { bestScore = minD; best = s; }
    }
    placed.push({s:best, yp});
    out.push({off: best*d, v});
  }
  return out;
}

function overlayPlugin(hi, lo, levels, text) {
  return {
    id: 'overlay',
    afterDatasetsDraw(chart) {
      const {ctx, chartArea} = chart;
      const x = chart.scales.x, y = chart.scales.y;
      ctx.save();
      ctx.strokeStyle = '#e8302f'; ctx.lineWidth = 2;
      hi.forEach((h, i) => {
        if (h == null) return;
        const px = x.getPixelForValue(i);
        const yh = y.getPixelForValue(h), yl = y.getPixelForValue(lo[i]);
        ctx.beginPath();
        ctx.moveTo(px, yh); ctx.lineTo(px, yl);
        ctx.moveTo(px-7, yh); ctx.lineTo(px+7, yh);
        ctx.moveTo(px-7, yl); ctx.lineTo(px+7, yl);
        ctx.stroke();
      });
      const x0 = x.getPixelForValue(0), x1 = x.getPixelForValue(categories.length-1);
      const yb = y.getPixelForValue(levels[1]), yd = y.getPixelForValue(levels[2]);
      ctx.strokeStyle = '#1e1e1e'; ctx.lineWidth = 1.6;
      ctx.beginPath();
      ctx.moveTo(x0, yd); ctx.lineTo(x0, yb); ctx.lineTo(x1, yb); ctx.lineTo(x1, yd);
      ctx.stroke();
      ctx.fillStyle = '#1e1e1e';
      ctx.font = '18px Lato, sans-serif';
      ctx.textAlign = 'center'; ctx.textBaseline = 'middle';
      ctx.fillText(text, (chartArea.left + chartArea.right)/2, y.getPixelForValue(levels[0]));
      ctx.restore();
    }
  };
}

function build() {
  Chart.defaults.font.family = 'Lato, sans-serif';
  Chart.defaults.color = '#1e1e1e';
  const wrap = document.getElementById('wrap');
  for (let r = 0; r < 3; r++) {
    for (let c = 0; c < 4; c++) {
      const [mean, hi, lo, dots] = table[r][c];
      const top = chartTops[r][c], bot = chartBots[r][c];
      const plotH = bot - top;
      const cv = document.createElement('canvas');
      const W = colYW[c] + plotW + 1, H = PAD_TOP + plotH + XH;
      cv.width = W; cv.height = H;
      cv.style.left = (colAxisX[c] - colYW[c]) + 'px';
      cv.style.top = (top - PAD_TOP) + 'px';
      cv.style.width = W + 'px'; cv.style.height = H + 'px';
      wrap.appendChild(cv);

      const unitPx = plotW / (X_MAX - X_MIN);
      const pxPerUnit = plotH / yMaxes[c];
      const dotPts = [];
      dots.forEach((arr, i) => {
        swarm(arr, pxPerUnit).forEach(p => dotPts.push({x: i + p.off/unitPx, y: p.v}));
      });
      const yw = colYW[c];
      new Chart(cv, {
        type: 'bar',
        data: {
          datasets: [
            { type: 'scatter', data: dotPts, pointRadius: 2, pointBackgroundColor: '#111', pointBorderWidth: 0, pointHoverRadius: 2, order: 1 },
            { type: 'bar', data: mean.map((v,i)=>({x:i, y:v})), backgroundColor: '#ffffff', borderColor: rowColors[r],
              borderWidth: 4.5, barPercentage: 0.65, categoryPercentage: 1.0, order: 2 }
          ]
        },
        options: {
          responsive: false, animation: false, devicePixelRatio: 1,
          layout: { padding: { top: PAD_TOP, right: 1, left: 0, bottom: 0 } },
          plugins: { legend: { display: false }, tooltip: { enabled: false }, title: { display: false } },
          scales: {
            x: {
              type: 'linear', min: X_MIN, max: X_MAX, offset: false,
              afterBuildTicks: s => { s.ticks = categories.map((cat, i) => ({ value: i })); },
              afterFit: s => { s.height = XH; },
              ticks: { autoSkip: false, minRotation: 45, maxRotation: 45, padding: 2,
                       font: { size: 18 }, color: '#1e1e1e', callback: v => categories[v] },
              grid: { display: true, offset: false, drawOnChartArea: false, drawTicks: true, tickLength: 10, tickWidth: 3, tickColor: '#111' },
              border: { display: true, width: 4, color: '#111' },
              title: { display: true, text: xTitle, font: { size: 18 }, color: '#1e1e1e', padding: { top: 0, bottom: 0 } }
            },
            y: {
              min: 0, max: yMaxes[c],
              afterFit: s => { s.width = yw; },
              ticks: { stepSize: ySteps[c], padding: 3, font: { size: 20 }, color: '#1e1e1e',
                       callback: v => Number(v).toFixed(yDecimals[c]) },
              grid: { display: true, drawOnChartArea: false, drawTicks: true, tickLength: 11, tickWidth: 3, tickColor: '#111' },
              border: { display: true, width: 4, color: '#111' },
              title: { display: true, text: yTitles[c], font: { size: 18 }, color: '#1e1e1e', padding: { top: 0, bottom: 0 } }
            }
          }
        },
        plugins: [overlayPlugin(hi, lo, kwLevels[r][c], kwTexts[r][c])]
      });
    }
  }
}
const ready = (document.fonts && document.fonts.load) ? Promise.all([document.fonts.load('18px Lato'), document.fonts.load('32px Lato')]) : Promise.resolve();
ready.then(build, build);
</script>
</body></html>
